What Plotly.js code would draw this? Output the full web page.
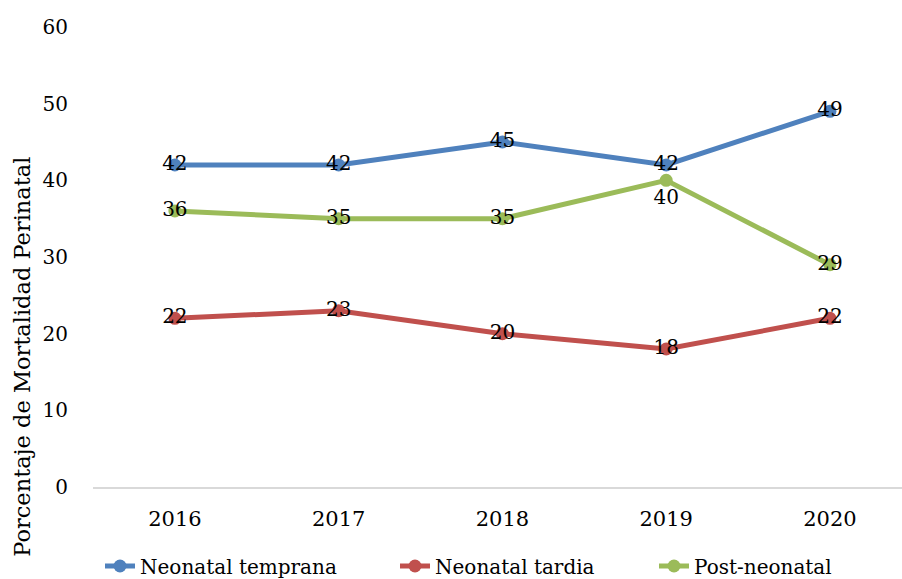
<!DOCTYPE html>
<html>
<head>
<meta charset="utf-8">
<script src="https://cdn.plot.ly/plotly-3.0.1.min.js"></script>
<style>html,body{margin:0;padding:0;background:#fff;}#chart{width:902px;height:579px;}</style>
</head>
<body>
<div id="chart"></div>
<script>
const years = ['2016', '2017', '2018', '2019', '2020'];
const neonatalTemprana = [42, 42, 45, 42, 49];
const neonatalTardia = [22, 23, 20, 18, 22];
const postNeonatal = [36, 35, 35, 40, 29];
const seriesNames = ['Neonatal temprana', 'Neonatal tardia', 'Post-neonatal'];
const yTitle = 'Porcentaje de Mortalidad Perinatal';

const FONT = 'DejaVu Serif, Cambria, serif';
function mk(name, vals, color, legendId, positions) {
  return {
    type: 'scatter', mode: 'lines+markers+text', name: name,
    x: years, y: vals,
    text: vals.map(String),
    textposition: positions || 'middle center',
    textfont: {family: FONT, size: 20, color: '#000'},
    line: {color: color, width: 5},
    marker: {color: color, size: 13},
    legend: legendId,
    cliponaxis: false
  };
}
const traces = [
  mk(seriesNames[0], neonatalTemprana, '#4F81BD', 'legend'),
  mk(seriesNames[1], neonatalTardia, '#C0504D', 'legend2'),
  mk(seriesNames[2], postNeonatal, '#9BBB59', 'legend3', ['middle center','middle center','middle center','bottom center','middle center'])
];
function leg(px) {
  return {orientation: 'h', xref: 'container', yref: 'container', x: px / 902, xanchor: 'left',
          y: 13 / 579, yanchor: 'middle', font: {family: FONT, size: 20, color: '#000'},
          bgcolor: 'rgba(0,0,0,0)', borderwidth: 0};
}
const layout = {
  width: 902, height: 579,
  margin: {l: 93, r: 0, t: 27, b: 92},
  paper_bgcolor: '#fff', plot_bgcolor: '#fff',
  font: {family: FONT, size: 20, color: '#000'},
  showlegend: true,
  legend: leg(100),
  legend2: leg(395),
  legend3: leg(654),
  xaxis: {
    type: 'category', range: [-0.5, 4.44], automargin: false,
    showline: true, linecolor: '#d9d9d9', linewidth: 2,
    showgrid: false, zeroline: false,
    ticks: 'outside', ticklen: 12, tickcolor: 'rgba(0,0,0,0)',
    tickfont: {family: FONT, size: 21}
  },
  yaxis: {
    range: [0, 60], dtick: 10, automargin: false,
    showline: false, showgrid: false, zeroline: false,
    ticks: 'outside', ticklen: 20, tickcolor: 'rgba(0,0,0,0)',
    tickfont: {family: FONT, size: 20}
  },
  annotations: [{
    text: yTitle, xref: 'paper', yref: 'paper',
    x: -0.0878, y: 0.283, xanchor: 'center', yanchor: 'middle',
    textangle: -90, showarrow: false,
    font: {family: FONT, size: 22.5, color: '#000'}
  }]
};
Plotly.newPlot('chart', traces, layout, {displayModeBar: false, staticPlot: true});
</script>
</body>
</html>
